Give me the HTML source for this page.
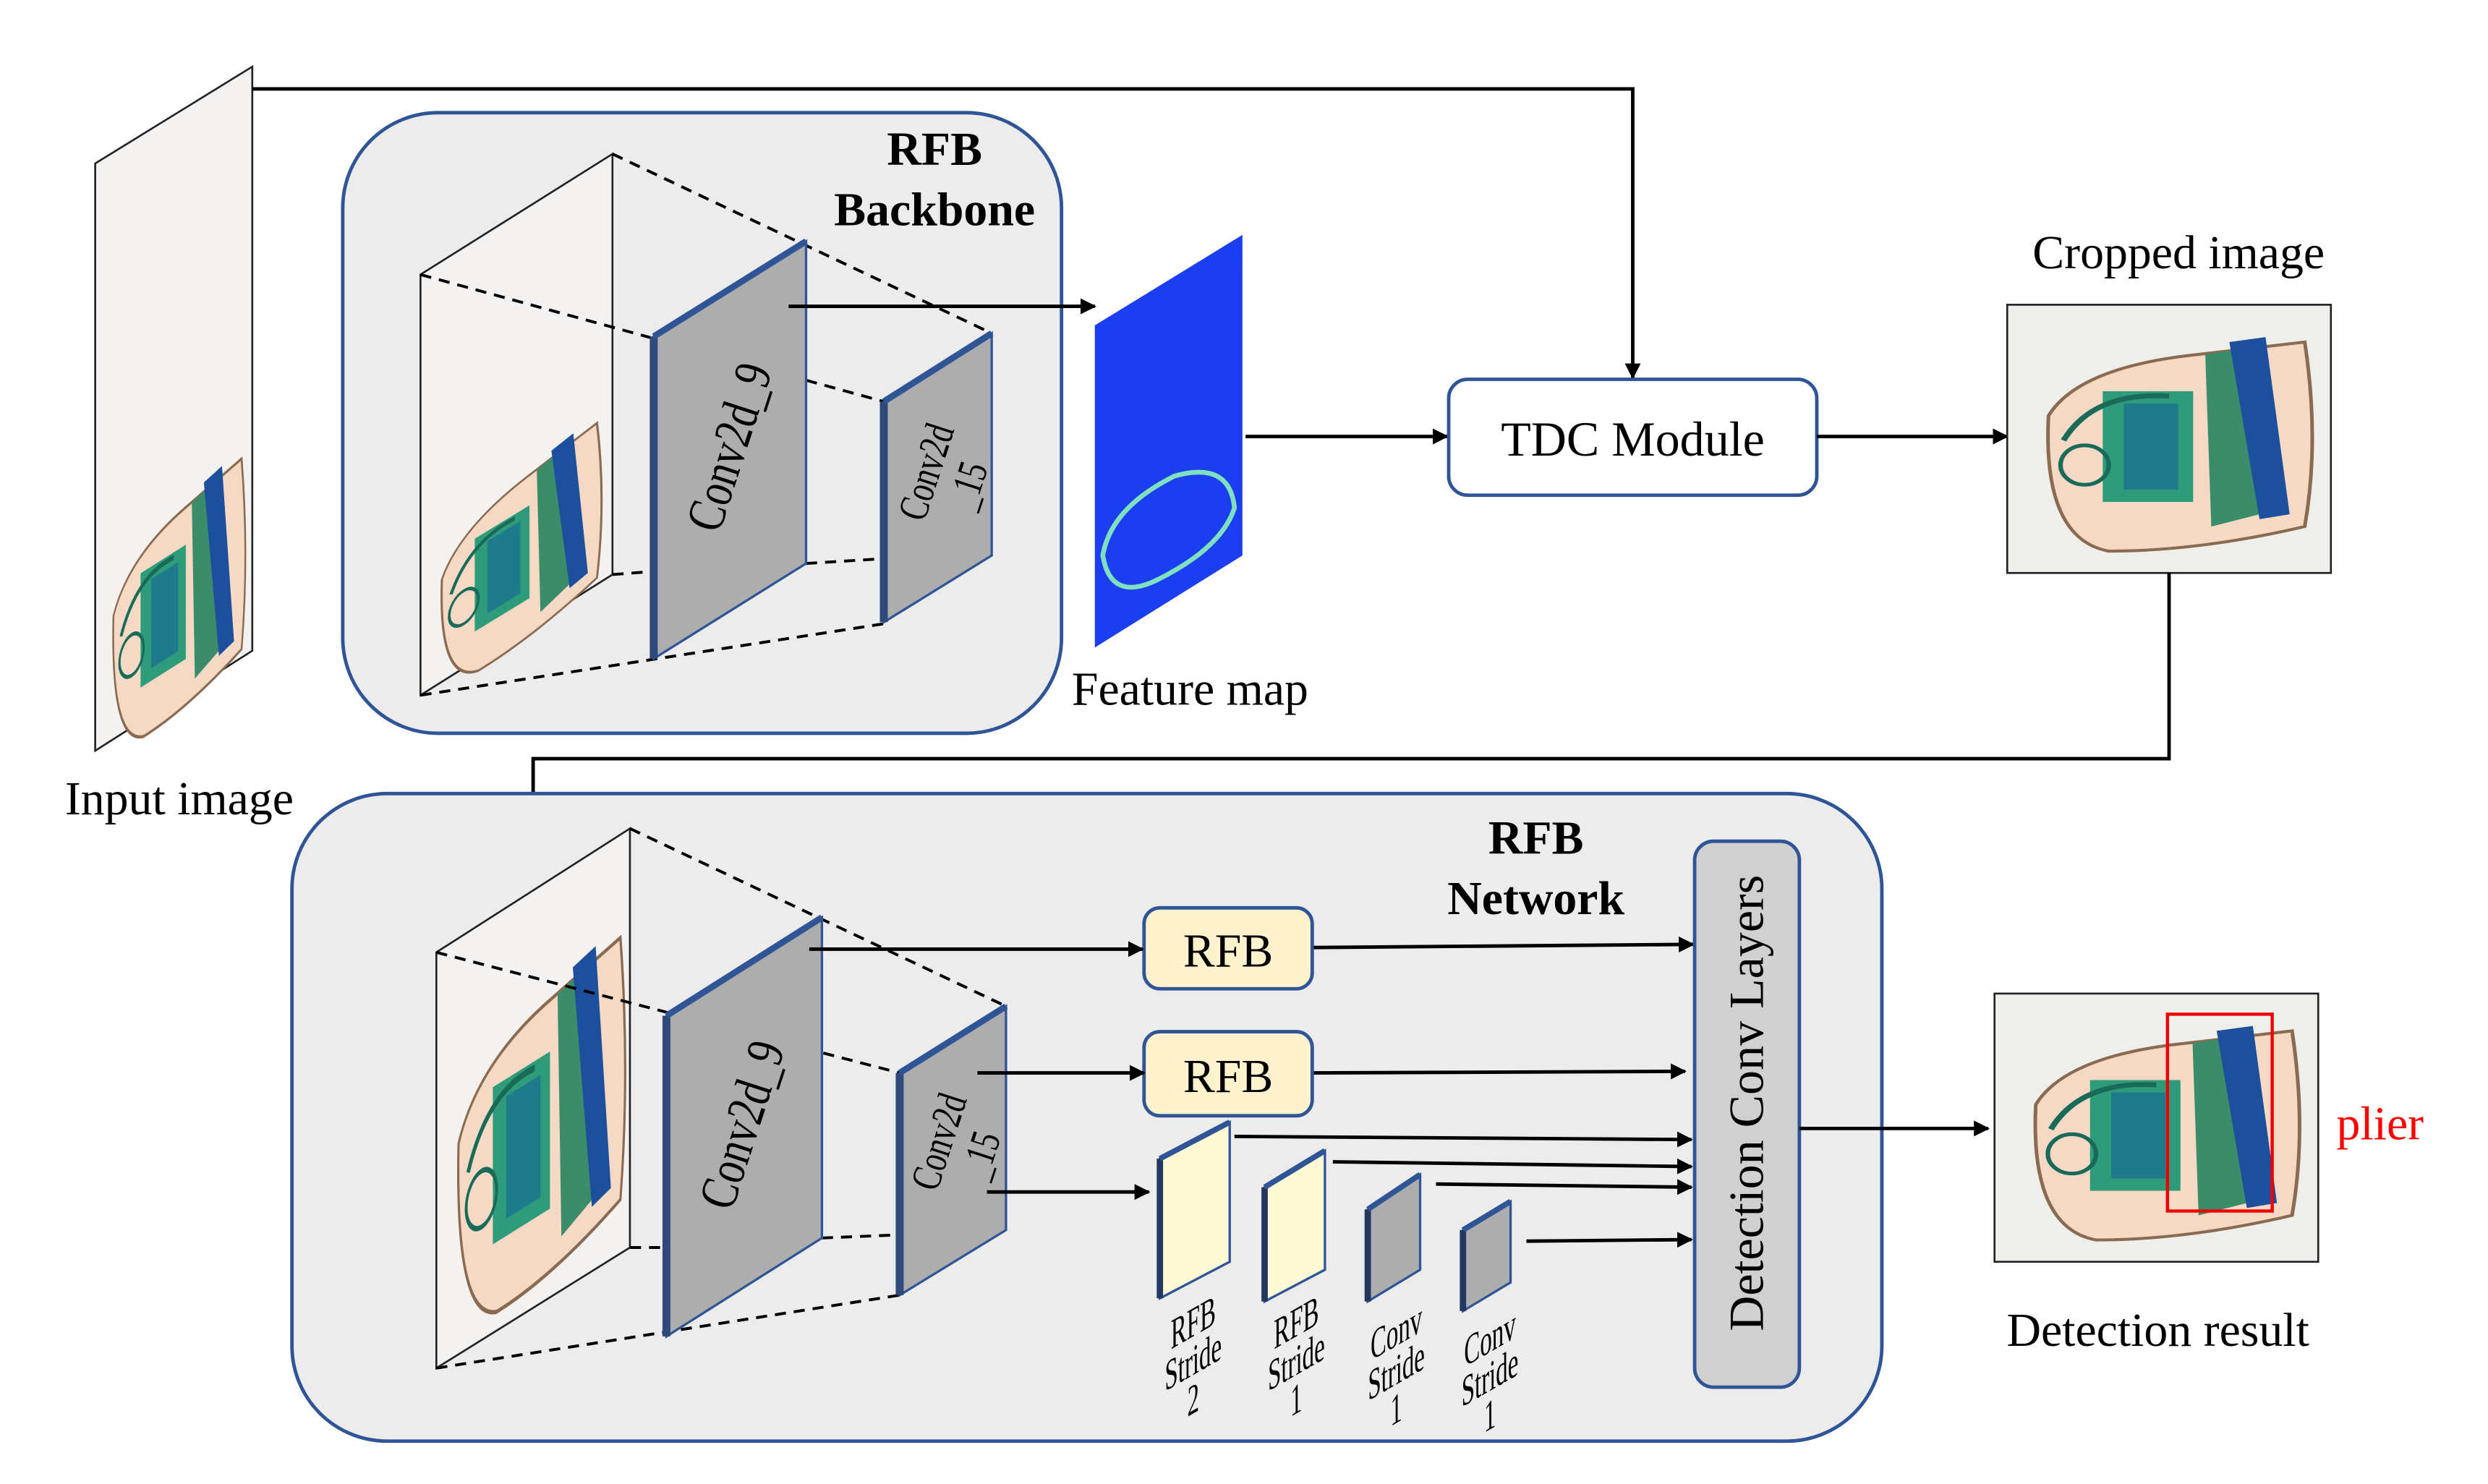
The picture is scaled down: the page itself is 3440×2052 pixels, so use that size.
<!DOCTYPE html>
<html><head><meta charset="utf-8"><style>
html,body{margin:0;padding:0;background:#fff;overflow:hidden;width:3440px;height:2052px;}
svg{display:block;position:absolute;left:0;top:0;}
text{font-family:"Liberation Serif",serif;}
</style></head><body>
<svg width="3440" height="2052" viewBox="0 0 1568 935" preserveAspectRatio="none" xmlns="http://www.w3.org/2000/svg">
<defs>
<marker id="a" markerWidth="10" markerHeight="10" refX="9" refY="5" orient="auto" markerUnits="userSpaceOnUse">
<path d="M0,0 L10,5 L0,10 z" fill="#000"/></marker>
<g id="bag">
<path d="M10,40 Q20,20 60,15 L95,10 Q100,50 95,85 Q60,95 30,95 Q8,90 10,40z" fill="#f5d9c4" stroke="#8a6a50" stroke-width="1.2"/>
<rect x="28" y="30" width="30" height="45" fill="#2e9b7a"/>
<rect x="35" y="35" width="18" height="35" fill="#1f7a8c"/>
<path d="M62,15 L78,12 L80,80 L64,85z" fill="#3a8c6a"/>
<path d="M70,10 L82,8 L90,80 L80,82z" fill="#1d4f9c"/>
<path d="M15,50 Q25,30 50,32" stroke="#1a6a5a" stroke-width="2" fill="none"/>
<circle cx="22" cy="60" r="8" stroke="#1a6a5a" stroke-width="1.5" fill="none"/>
</g>
</defs>

<path d="M60,103 L159,42 L159,410 L60,473z" fill="#f4f2f0" stroke="#222" stroke-width="1.2"/>
<g transform="matrix(0.95,-0.6,0,1.6,62,330)"><use href="#bag"/></g>
<text x="113" y="513" font-size="30" text-anchor="middle">Input image</text>

<polyline points="159,56 1029,56 1029,238" fill="none" stroke="#000" stroke-width="2.2" marker-end="url(#a)"/>

<rect x="216" y="71" width="453" height="391" rx="60" fill="#ececec" stroke="#2f5597" stroke-width="2.2"/>
<text x="589" y="104" font-size="30" font-weight="bold" text-anchor="middle">RFB</text>
<text x="589" y="142" font-size="30" font-weight="bold" text-anchor="middle">Backbone</text>
<path d="M265,173 L386,97 L386,362 L265,438z" fill="#f4f2f0" stroke="#222" stroke-width="1.2"/>
<g transform="matrix(1.15,-0.7,0,1.3,267,320)"><use href="#bag"/></g>
<g stroke="#000" stroke-width="1.8" stroke-dasharray="7,5" fill="none">
<line x1="386" y1="97" x2="625" y2="210"/>
<line x1="265" y1="173" x2="557" y2="253"/>
<line x1="265" y1="438" x2="557" y2="393"/>
<line x1="386" y1="362" x2="412" y2="360"/>
<line x1="508" y1="355" x2="557" y2="352"/>
</g>
<path d="M412,212 L508,152 L508,355 L412,415z" fill="#adadad" stroke="#2f5597" stroke-width="1.5"/>
<line x1="412" y1="212" x2="412" y2="415" stroke="#2f4a7a" stroke-width="5"/>
<line x1="412" y1="212" x2="508" y2="152" stroke="#2f5597" stroke-width="4"/>
<text transform="translate(470,285) rotate(-72) scale(0.9,1.15)" font-size="29" text-anchor="middle">Conv2d_9</text>
<path d="M557,253 L625,210 L625,350 L557,392z" fill="#adadad" stroke="#2f5597" stroke-width="1.5"/>
<line x1="557" y1="253" x2="557" y2="392" stroke="#2f4a7a" stroke-width="5"/>
<line x1="557" y1="253" x2="625" y2="210" stroke="#2f5597" stroke-width="4"/>
<g transform="translate(592,300) rotate(-72) scale(0.85,1.15)" font-size="23" text-anchor="middle">
<text x="0" y="0">Conv2d</text><text x="0" y="24">_15</text></g>
<line x1="497" y1="193" x2="690" y2="193" stroke="#000" stroke-width="2.2" marker-end="url(#a)"/>

<path d="M690,205 L783,148 L783,350 L690,408z" fill="#1b3ff0"/>
<path d="M695,350 Q700,320 740,300 Q775,290 778,320 Q770,345 730,365 Q700,380 695,350z" fill="none" stroke="#7fe0c0" stroke-width="3"/>
<text x="750" y="444" font-size="30" text-anchor="middle">Feature map</text>
<line x1="785" y1="275" x2="912" y2="275" stroke="#000" stroke-width="2.2" marker-end="url(#a)"/>

<rect x="913" y="239" width="232" height="73" rx="12" fill="#fff" stroke="#2f5597" stroke-width="2.2"/>
<text x="1029" y="287" font-size="31" text-anchor="middle">TDC Module</text>
<line x1="1145" y1="275" x2="1265" y2="275" stroke="#000" stroke-width="2.2" marker-end="url(#a)"/>

<rect x="1265" y="192" width="204" height="169" fill="#eeeeea" stroke="#222" stroke-width="1.2"/>
<g transform="matrix(1.9,0,0,1.55,1272,200)"><use href="#bag"/></g>
<text x="1373" y="169" font-size="30" text-anchor="middle">Cropped image</text>
<polyline points="1367,361 1367,478 336,478 336,553" fill="none" stroke="#000" stroke-width="2.2" marker-end="url(#a)"/>

<rect x="184" y="500" width="1002" height="408" rx="60" fill="#ececec" stroke="#2f5597" stroke-width="2.2"/>
<text x="968" y="538" font-size="30" font-weight="bold" text-anchor="middle">RFB</text>
<text x="968" y="576" font-size="30" font-weight="bold" text-anchor="middle">Network</text>
<path d="M275,600 L397,522 L397,786 L275,862z" fill="#f4f2f0" stroke="#222" stroke-width="1.2"/>
<g transform="matrix(1.2,-0.75,0,2.2,277,640)"><use href="#bag"/></g>
<g stroke="#000" stroke-width="1.8" stroke-dasharray="7,5" fill="none">
<line x1="397" y1="522" x2="634" y2="634"/>
<line x1="275" y1="600" x2="567" y2="676"/>
<line x1="275" y1="862" x2="567" y2="816"/>
<line x1="397" y1="786" x2="420" y2="786"/>
<line x1="518" y1="780" x2="567" y2="778"/>
</g>
<path d="M420,640 L518,578 L518,780 L420,842z" fill="#adadad" stroke="#2f5597" stroke-width="1.5"/>
<line x1="420" y1="640" x2="420" y2="842" stroke="#2f4a7a" stroke-width="5"/>
<line x1="420" y1="640" x2="518" y2="578" stroke="#2f5597" stroke-width="4"/>
<text transform="translate(478,712) rotate(-72) scale(0.9,1.15)" font-size="29" text-anchor="middle">Conv2d_9</text>
<path d="M567,676 L634,634 L634,775 L567,816z" fill="#adadad" stroke="#2f5597" stroke-width="1.5"/>
<line x1="567" y1="676" x2="567" y2="816" stroke="#2f4a7a" stroke-width="5"/>
<line x1="567" y1="676" x2="634" y2="634" stroke="#2f5597" stroke-width="4"/>
<g transform="translate(600,722) rotate(-72) scale(0.85,1.15)" font-size="23" text-anchor="middle">
<text x="0" y="0">Conv2d</text><text x="0" y="24">_15</text></g>

<rect x="721" y="572" width="106" height="51" rx="10" fill="#fff2cc" stroke="#2f5597" stroke-width="2.2"/>
<text x="774" y="609" font-size="30" text-anchor="middle">RFB</text>
<rect x="721" y="650" width="106" height="53" rx="10" fill="#fff2cc" stroke="#2f5597" stroke-width="2.2"/>
<text x="774" y="688" font-size="30" text-anchor="middle">RFB</text>

<g stroke="#000" stroke-width="2.2" fill="none" marker-end="url(#a)">
<line x1="510" y1="598" x2="720" y2="598"/>
<line x1="828" y1="597" x2="1067" y2="595"/>
<line x1="616" y1="676" x2="721" y2="676"/>
<line x1="828" y1="676" x2="1062" y2="675"/>
<line x1="622" y1="751" x2="724" y2="751"/>
<line x1="778" y1="716" x2="1066" y2="718"/>
<line x1="840" y1="732" x2="1066" y2="735"/>
<line x1="905" y1="746" x2="1066" y2="748"/>
<line x1="962" y1="782" x2="1066" y2="781"/>
</g>

<g stroke="#2f5597" stroke-width="1.5">
<path d="M731,730 L775,707 L775,795 L731,818z" fill="#fff9d6"/>
<path d="M797,748 L835,725 L835,800 L797,820z" fill="#fff9d6"/>
<path d="M862,762 L895,740 L895,800 L862,820z" fill="#adadad"/>
<path d="M922,775 L952,757 L952,808 L922,826z" fill="#adadad"/>
</g>
<g stroke="#24375e" stroke-width="4">
<line x1="731" y1="730" x2="731" y2="818"/><line x1="797" y1="748" x2="797" y2="820"/>
<line x1="862" y1="762" x2="862" y2="820"/><line x1="922" y1="775" x2="922" y2="826"/>
</g>
<g stroke="#2f5597" stroke-width="3.5">
<line x1="731" y1="730" x2="775" y2="707"/><line x1="797" y1="748" x2="835" y2="725"/>
<line x1="862" y1="762" x2="895" y2="740"/><line x1="922" y1="775" x2="952" y2="757"/>
</g>
<g font-size="20" text-anchor="middle">
<g transform="translate(752,842) skewY(-30) scale(0.75,1.35)"><text x="0" y="0">RFB</text><text x="0" y="18">Stride</text><text x="0" y="36">2</text></g>
<g transform="translate(817,842) skewY(-30) scale(0.75,1.35)"><text x="0" y="0">RFB</text><text x="0" y="18">Stride</text><text x="0" y="36">1</text></g>
<g transform="translate(880,848) skewY(-30) scale(0.75,1.35)"><text x="0" y="0">Conv</text><text x="0" y="18">Stride</text><text x="0" y="36">1</text></g>
<g transform="translate(939,852) skewY(-30) scale(0.75,1.35)"><text x="0" y="0">Conv</text><text x="0" y="18">Stride</text><text x="0" y="36">1</text></g>
</g>

<rect x="1068" y="530" width="66" height="344" rx="12" fill="#d0d0d0" stroke="#2f5597" stroke-width="2.2"/>
<text transform="translate(1111,695) rotate(-90)" font-size="31" text-anchor="middle">Detection Conv Layers</text>
<line x1="1134" y1="711" x2="1253" y2="711" stroke="#000" stroke-width="2.2" marker-end="url(#a)"/>

<rect x="1257" y="626" width="204" height="169" fill="#eeeeea" stroke="#222" stroke-width="1.2"/>
<g transform="matrix(1.9,0,0,1.55,1264,634)"><use href="#bag"/></g>
<rect x="1366" y="639" width="66" height="124" fill="none" stroke="#e00" stroke-width="2"/>
<text x="1500" y="718" font-size="30" fill="#f00" text-anchor="middle">plier</text>
<text x="1360" y="848" font-size="30" text-anchor="middle">Detection result</text>
</svg>
</body></html>
